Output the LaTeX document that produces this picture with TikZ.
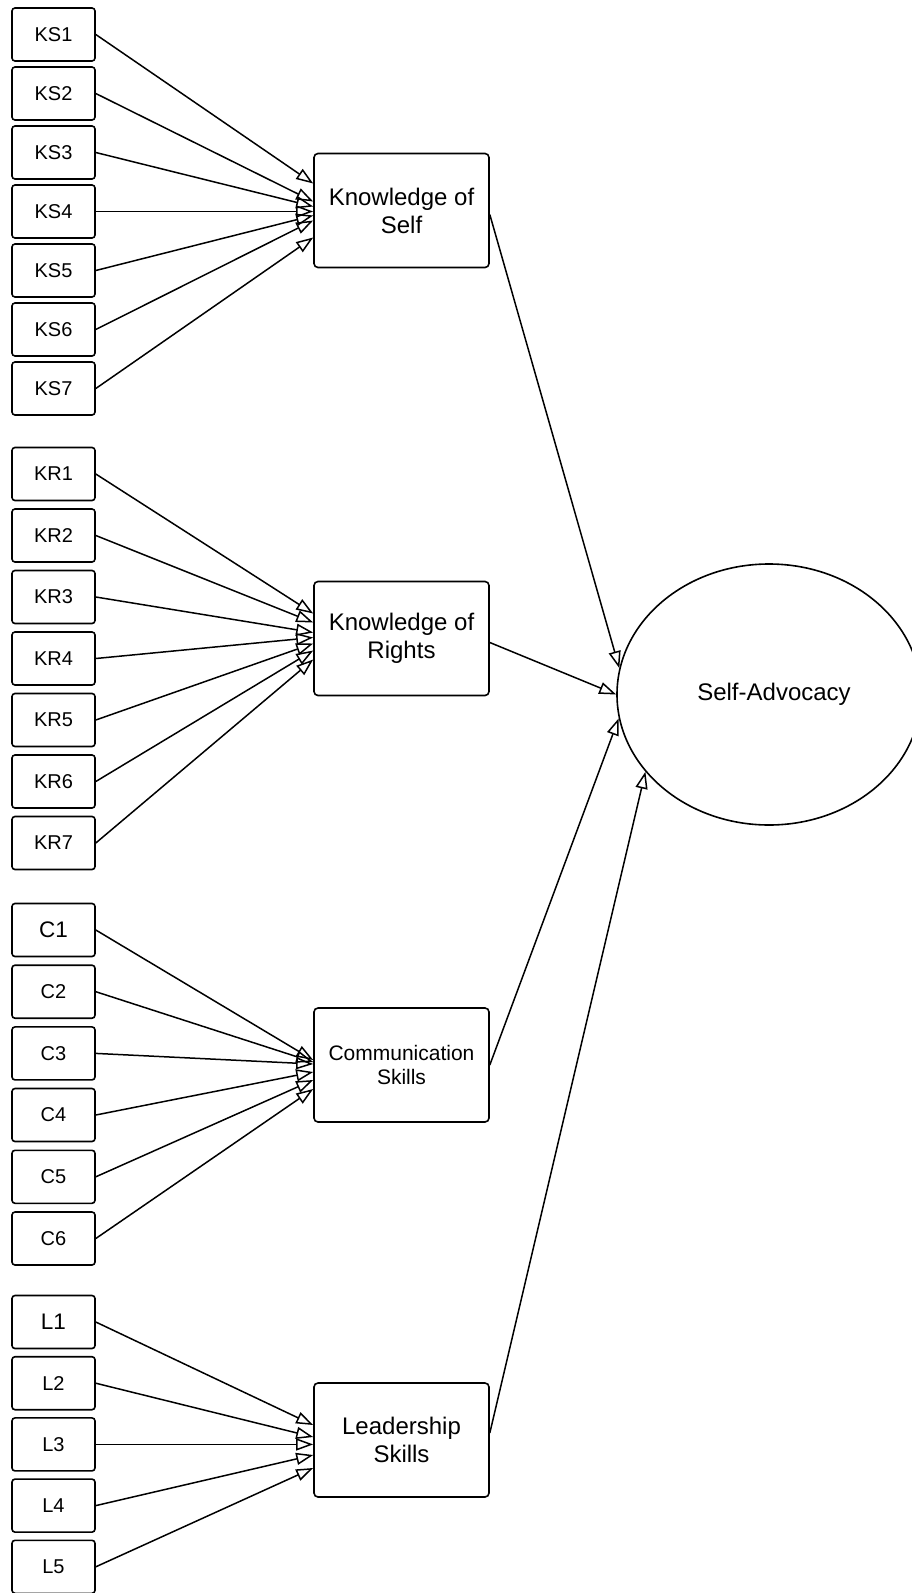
\documentclass[tikz,border=0pt]{standalone}
\usepackage{fontspec}
\setmainfont{Liberation Sans}
\usetikzlibrary{arrows.meta,shapes.geometric}

\tikzset{
    item/.style={draw, rounded corners=3pt, line width=1.6pt, minimum width=83pt,
        minimum height=53pt, inner sep=0pt, font=\fontsize{20}{24}\selectfont},
    bigitem/.style={item, font=\fontsize{22.5}{26}\selectfont},
    factor/.style={draw, rounded corners=4pt, line width=1.6pt, minimum width=175pt,
        minimum height=114pt, inner sep=0pt, align=center, font=\fontsize{24}{28}\selectfont},
    outcome/.style={draw, ellipse, line width=1.6pt, minimum width=304pt,
        minimum height=261pt, inner sep=0pt, font=\fontsize{24}{28}\selectfont},
    load/.style={line width=1.5pt, -{Triangle[open, length=17pt, width=12pt]}}
}

\begin{document}
\begin{tikzpicture}[x=1pt, y=-1pt]
    \useasboundingbox (0,0) rectangle (911,1593);

    \node[item] (ks1) at (53.5,34.5) {KS1};
    \node[item] (ks2) at (53.5,93.5) {KS2};
    \node[item] (ks3) at (53.5,152.5) {KS3};
    \node[item] (ks4) at (53.5,211.5) {KS4};
    \node[item] (ks5) at (53.5,270.5) {KS5};
    \node[item] (ks6) at (53.5,329.5) {KS6};
    \node[item] (ks7) at (53.5,388.5) {KS7};

    \node[item] (kr1) at (53.5,474) {KR1};
    \node[item] (kr2) at (53.5,535.5) {KR2};
    \node[item] (kr3) at (53.5,597) {KR3};
    \node[item] (kr4) at (53.5,658.5) {KR4};
    \node[item] (kr5) at (53.5,720) {KR5};
    \node[item] (kr6) at (53.5,781.5) {KR6};
    \node[item] (kr7) at (53.5,843) {KR7};

    \node[bigitem] (c1) at (53.5,930) {C1};
    \node[item] (c2) at (53.5,991.7) {C2};
    \node[item] (c3) at (53.5,1053.4) {C3};
    \node[item] (c4) at (53.5,1115) {C4};
    \node[item] (c5) at (53.5,1176.8) {C5};
    \node[item] (c6) at (53.5,1238.5) {C6};

    \node[bigitem] (l1) at (53.5,1322) {L1};
    \node[item] (l2) at (53.5,1383.2) {L2};
    \node[item] (l3) at (53.5,1444.4) {L3};
    \node[item] (l4) at (53.5,1505.6) {L4};
    \node[item] (l5) at (53.5,1566.8) {L5};

    \node[factor] (kos) at (401.5,210.5) {Knowledge of\\Self};
    \node[factor] (kor) at (401.5,638.5) {Knowledge of\\Rights};
    \node[factor, font=\fontsize{21}{24}\selectfont] (com) at (401.5,1065) {Communication\\Skills};
    \node[factor] (lead) at (401.5,1440) {Leadership\\Skills};

    \node[outcome] (sa) at (769,694.5) {\hspace*{10pt}Self-Advocacy};

    \draw[load] (ks1.east) -- ([yshift=27pt]kos.west);
    \draw[load] (ks2.east) -- ([yshift=9pt]kos.west);
    \draw[load] (ks3.east) -- ([yshift=4pt]kos.west);
    \draw[load] (ks4.east) -- ([yshift=-1pt]kos.west);
    \draw[load] (ks5.east) -- ([yshift=-5pt]kos.west);
    \draw[load] (ks6.east) -- ([yshift=-10pt]kos.west);
    \draw[load] (ks7.east) -- ([yshift=-27pt]kos.west);

    \draw[load] (kr1.east) -- ([yshift=25pt]kor.west);
    \draw[load] (kr2.east) -- ([yshift=16pt]kor.west);
    \draw[load] (kr3.east) -- ([yshift=6pt]kor.west);
    \draw[load] (kr4.east) -- ([yshift=1pt]kor.west);
    \draw[load] (kr5.east) -- ([yshift=-5pt]kor.west);
    \draw[load] (kr6.east) -- ([yshift=-12pt]kor.west);
    \draw[load] (kr7.east) -- ([yshift=-21pt]kor.west);

    \draw[load] (c1.east) -- ([yshift=5pt]com.west);
    \draw[load] (c2.east) -- ([yshift=3pt]com.west);
    \draw[load] (c3.east) -- ([yshift=1pt]com.west);
    \draw[load] (c4.east) -- ([yshift=-7pt]com.west);
    \draw[load] (c5.east) -- ([yshift=-15pt]com.west);
    \draw[load] (c6.east) -- ([yshift=-24pt]com.west);

    \draw[load] (l1.east) -- ([yshift=15pt]lead.west);
    \draw[load] (l2.east) -- ([yshift=3pt]lead.west);
    \draw[load] (l3.east) -- ([yshift=-4.4pt]lead.west);
    \draw[load] (l4.east) -- ([yshift=-15pt]lead.west);
    \draw[load] (l5.east) -- ([yshift=-28pt]lead.west);

    \draw[load] ([yshift=-4pt]kos.east) -- (sa.170);
    \draw[load] ([yshift=-4pt]kor.east) -- (sa.west);
    \draw[load] (com.east) -- (sa.189);
    \draw[load] ([yshift=7pt]lead.east) -- (sa.212);
\end{tikzpicture}
\end{document}
